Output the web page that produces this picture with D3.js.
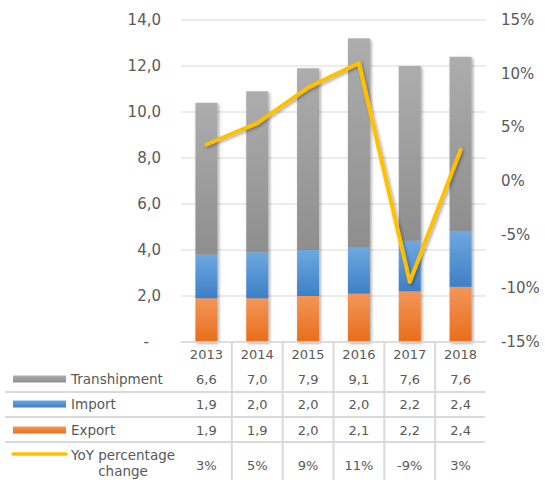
<!DOCTYPE html>
<html lang="en">
<head>
<meta charset="UTF-8">
<title>Throughput by type</title>
<script src="https://d3js.org/d3.v7.min.js"></script>
<style>
    body { margin: 0; background: #fff; }
    svg { display: block; font-family: "DejaVu Sans", Verdana, sans-serif; }
    .lbl { fill: #595959; font-size: 13px; }
    .name { font-size: 13.5px; }
    .axis { font-size: 15px; }
</style>
</head>
<body>
<div id="chart"></div>
<script>
    // data
    const years = ["2013", "2014", "2015", "2016", "2017", "2018"];
    const transhipment = [6.6, 7.0, 7.9, 9.1, 7.6, 7.6];
    const importVals = [1.9, 2.0, 2.0, 2.0, 2.2, 2.4];
    const exportVals = [1.9, 1.9, 2.0, 2.1, 2.2, 2.4];
    const yoy = [3.4, 5.4, 8.7, 11.0, -9.4, 2.9];
    const leftTicks = [0, 2, 4, 6, 8, 10, 12, 14];
    const rightTicks = [-15, -10, -5, 0, 5, 10, 15];

    const width = 545, height = 480;
    const plotLeft = 181, plotRight = 486, plotTop = 20, plotBottom = 342;
    const gridColor = "#d9d9d9";

    const svg = d3.select("#chart").append("svg")
        .attr("width", width)
        .attr("height", height);

    const defs = svg.append("defs");

    // soft shadow like the office charts
    const shadow = defs.append("filter").attr("id", "shadow")
        .attr("x", "-50%").attr("y", "-20%").attr("width", "200%").attr("height", "140%");
    shadow.append("feDropShadow")
        .attr("dx", 1.5).attr("dy", 1.5).attr("stdDeviation", 1.8)
        .attr("flood-color", "#000").attr("flood-opacity", 0.35);

    const grads = {
        Transhipment: ["#adadad", "#8e8e8e"],
        Import: ["#6ea8e0", "#3d7fc6"],
        Export: ["#f39659", "#e86e1a"]
    };
    for (const k in grads) {
        const g = defs.append("linearGradient").attr("id", "g" + k)
            .attr("x1", 0).attr("y1", 0).attr("x2", 0).attr("y2", 1);
        g.append("stop").attr("offset", "0%").attr("stop-color", grads[k][0]);
        g.append("stop").attr("offset", "100%").attr("stop-color", grads[k][1]);
    }

    const x = d3.scaleBand().domain(years).range([plotLeft, plotRight]);
    const y = d3.scaleLinear().domain([0, 14]).range([plotBottom, plotTop]);
    const yR = d3.scaleLinear().domain([-15, 15]).range([plotBottom, plotTop]);

    // gridlines
    svg.append("g").selectAll("line")
        .data(leftTicks)
        .enter().append("line")
        .attr("x1", plotLeft).attr("x2", plotRight)
        .attr("y1", d => y(d)).attr("y2", d => y(d))
        .attr("stroke", gridColor).attr("stroke-width", 1);

    // left axis labels
    const comma = v => v.toFixed(1).replace(".", ",");
    svg.append("g").selectAll("text")
        .data(leftTicks)
        .enter().append("text")
        .attr("class", "lbl axis")
        .attr("x", d => d === 0 ? 149 : 161)
        .attr("y", d => y(d))
        .attr("text-anchor", "end")
        .attr("dominant-baseline", "central")
        .text(d => d === 0 ? "-" : comma(d));

    // right axis labels
    svg.append("g").selectAll("text")
        .data(rightTicks)
        .enter().append("text")
        .attr("class", "lbl axis")
        .attr("x", 501)
        .attr("y", d => yR(d))
        .attr("dominant-baseline", "central")
        .text(d => d + "%");

    // stacked bars
    const table = years.map((yr, i) => ({
        year: yr, Export: exportVals[i], Import: importVals[i], Transhipment: transhipment[i]
    }));
    const series = d3.stack().keys(["Export", "Import", "Transhipment"])(table);
    const barW = 22;

    svg.append("g").attr("filter", "url(#shadow)")
        .selectAll("g")
        .data(series)
        .enter().append("g")
        .attr("fill", d => "url(#g" + d.key + ")")
        .selectAll("rect")
        .data(d => d)
        .enter().append("rect")
        .attr("x", d => x(d.data.year) + x.bandwidth() / 2 - barW / 2)
        .attr("y", d => y(d[1]))
        .attr("width", barW)
        .attr("height", d => y(d[0]) - y(d[1]));

    // YoY line
    const line = d3.line()
        .x((d, i) => x(years[i]) + x.bandwidth() / 2)
        .y(d => yR(d));
    svg.append("path")
        .datum(yoy)
        .attr("d", line)
        .attr("fill", "none")
        .attr("stroke", "#ffc000")
        .attr("stroke-width", 4)
        .attr("stroke-linejoin", "round")
        .attr("stroke-linecap", "round")
        .attr("filter", "url(#shadow)");

    // data table
    const rowLines = [392, 417, 442];
    const tbl = svg.append("g");
    tbl.append("line")
        .attr("x1", plotLeft).attr("x2", plotRight)
        .attr("y1", plotBottom).attr("y2", plotBottom)
        .attr("stroke", gridColor).attr("stroke-width", 1.5);
    tbl.selectAll(".hline")
        .data(rowLines)
        .enter().append("line")
        .attr("class", "hline")
        .attr("x1", 5).attr("x2", plotRight - 1)
        .attr("y1", d => d).attr("y2", d => d)
        .attr("stroke", gridColor).attr("stroke-width", 2);
    tbl.selectAll(".vline")
        .data(years.slice(1).map(d => x(d)))
        .enter().append("line")
        .attr("class", "vline")
        .attr("x1", d => d).attr("x2", d => d)
        .attr("y1", plotBottom).attr("y2", height)
        .attr("stroke", gridColor).attr("stroke-width", 2);

    // year header
    tbl.selectAll(".yr")
        .data(years)
        .enter().append("text")
        .attr("class", "lbl")
        .attr("x", d => x(d) + x.bandwidth() / 2)
        .attr("y", 354)
        .attr("text-anchor", "middle")
        .attr("dominant-baseline", "central")
        .text(d => d);

    const rows = [
        { name: "Transhipment", vals: transhipment.map(comma), key: "Transhipment", cy: 379 },
        { name: "Import", vals: importVals.map(comma), key: "Import", cy: 404 },
        { name: "Export", vals: exportVals.map(comma), key: "Export", cy: 430 },
        { name: "YoY", vals: yoy.map(v => Math.round(v) + "%"), key: "line", cy: 465 }
    ];

    rows.forEach(r => {
        if (r.key === "line") {
            tbl.append("line")
                .attr("x1", 13).attr("x2", 66)
                .attr("y1", 454).attr("y2", 454)
                .attr("stroke", "#ffc000").attr("stroke-width", 3.5)
                .attr("stroke-linecap", "round");
            tbl.append("text").attr("class", "lbl name")
                .attr("x", 123).attr("y", 455)
                .attr("text-anchor", "middle").attr("dominant-baseline", "central")
                .text("YoY percentage");
            tbl.append("text").attr("class", "lbl name")
                .attr("x", 123).attr("y", 471)
                .attr("text-anchor", "middle").attr("dominant-baseline", "central")
                .text("change");
        } else {
            tbl.append("rect")
                .attr("x", 13).attr("y", r.cy - 3.5)
                .attr("width", 53).attr("height", 7)
                .attr("fill", "url(#g" + r.key + ")");
            tbl.append("text").attr("class", "lbl name")
                .attr("x", 71).attr("y", r.cy)
                .attr("dominant-baseline", "central")
                .text(r.name);
        }
        tbl.selectAll(null)
            .data(r.vals)
            .enter().append("text")
            .attr("class", "lbl")
            .attr("x", (d, i) => x(years[i]) + x.bandwidth() / 2)
            .attr("y", r.cy)
            .attr("text-anchor", "middle")
            .attr("dominant-baseline", "central")
            .text(d => d);
    });
</script>
</body>
</html>
